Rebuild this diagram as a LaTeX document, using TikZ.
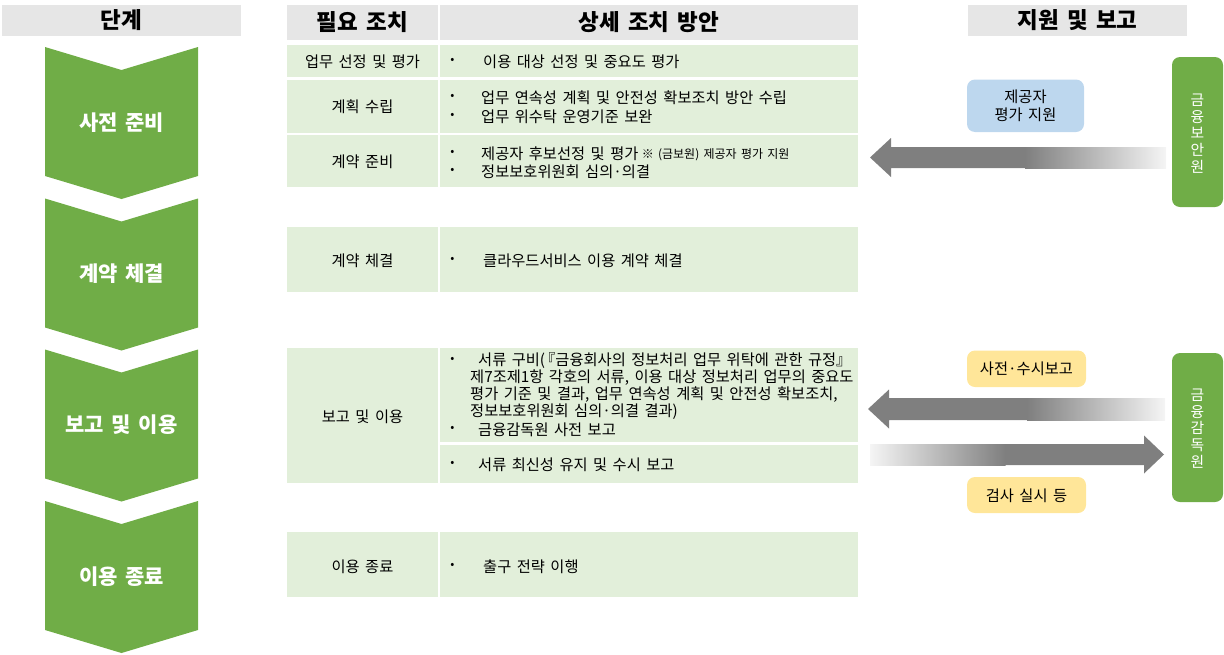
\documentclass[tikz,border=0pt]{standalone}
\usepackage{fontspec}
\setmainfont{Noto Sans CJK KR}
\newfontfamily\bodyfont[WordSpace=1.25]{Noto Sans CJK KR}
\newfontfamily\hdrfont[WordSpace=2.6]{Noto Sans CJK KR}
\newfontfamily\stepfont[WordSpace=1.6]{Noto Sans CJK KR}
\usetikzlibrary{calc}
\definecolor{hdrgray}{HTML}{E6E6E6}
\definecolor{rowgreen}{HTML}{E2EFDA}
\definecolor{stepgreen}{HTML}{70AD47}
\definecolor{boxblue}{HTML}{BDD7EE}
\definecolor{boxyellow}{HTML}{FFE699}
\definecolor{arrgray}{HTML}{7F7F7F}
\tikzset{
  hdrtext/.style={font=\hdrfont\fontsize{22.5}{26}\selectfont\bfseries, inner sep=0pt},
  steptext/.style={font=\stepfont\fontsize{21}{24}\selectfont\bfseries, text=white, inner sep=0pt},
  celltext/.style={font=\bodyfont\fontsize{15.3}{18}\selectfont, inner sep=0pt},
  bullettext/.style={font=\bodyfont\fontsize{15.3}{18}\selectfont, inner sep=0pt, anchor=west},
  bulletdot/.style={font=\fontsize{12}{14}\selectfont, inner sep=0pt},
  smalltext/.style={font=\bodyfont\fontsize{12}{14}\selectfont, inner sep=0pt},
  orgtext/.style={font=\bodyfont\fontsize{14.8}{16.6}\selectfont, text=white, align=center, inner sep=0pt},
}
\newcommand{\chevronshape}[2]{% #1 top y, #2 name
  \fill[stepgreen] (45,#1) -- (121.5,#1+23) -- (198,#1) -- (198,#1+129) -- (121.5,#1+152) -- (45,#1+129) -- cycle;
  \coordinate (#2) at (121.5,#1+75.5);
}
\begin{document}
\begin{tikzpicture}[x=1pt,y=-1pt]
\useasboundingbox (0,0) rectangle (1224,654);

% ---------- left column: stages ----------
\fill[hdrgray] (2,5) rectangle (241,36);
\node[hdrtext] (hstage) at (121.5,20.5) {단계};
\chevronshape{47}{c1}
\chevronshape{198.5}{c2}
\chevronshape{349.5}{c3}
\chevronshape{501}{c4}
\node[steptext] (s1) at (c1) {사전 준비};
\node[steptext] (s2) at (c2) {계약 체결};
\node[steptext] (s3) at (c3) {보고 및 이용};
\node[steptext] (s4) at (c4) {이용 종료};

% ---------- table ----------
\fill[hdrgray] (287,5) rectangle (438,40);
\fill[hdrgray] (440,5) rectangle (858,40);
\node[hdrtext] (hneed) at (362.5,22.5) {필요 조치};
\node[hdrtext] (hdetail) at (649,22.5) {상세 조치 방안};

% row fills
\foreach \ya/\yb in {44.5/77, 79.5/132.5, 135/187, 227/292, 348/483, 532/597}{
  \fill[rowgreen] (287,\ya) rectangle (438,\yb);
}
\foreach \ya/\yb in {44.5/77, 79.5/132.5, 135/187, 227/292, 348/442, 444.5/483, 532/597}{
  \fill[rowgreen] (440,\ya) rectangle (858,\yb);
}

% left cells
\node[celltext] (l1) at (362.5,61.5) {업무 선정 및 평가};
\node[celltext] (l2) at (362.5,106.5) {계획 수립};
\node[celltext] (l3) at (362.5,161.5) {계약 준비};
\node[celltext] (l4) at (362.5,260.5) {계약 체결};
\node[celltext] (l5) at (362.5,416.5) {보고 및 이용};
\node[celltext] (l6) at (362.5,566.5) {이용 종료};

% right cells: bullets
\foreach \y in {61, 97, 116, 153, 171, 260, 360, 429, 464, 566}{
  \node[bulletdot] at (452.5,\y) {•};
}
\node[bullettext] (r1) at (483,61.5) {이용 대상 선정 및 중요도 평가};
\node[bullettext] (r2a) at (481,97.5) {업무 연속성 계획 및 안전성 확보조치 방안 수립};
\node[bullettext] (r2b) at (481,116.5) {업무 위수탁 운영기준 보완};
\node[bullettext] (r3a) at (481,153.5) {제공자 후보선정 및 평가};
\node[smalltext, anchor=west] (r3n) at ($(r3a.east)+(3,1)$) {※ (금보원) 제공자 평가 지원};
\node[bullettext] (r3b) at (481,171.5) {정보보호위원회 심의·의결};
\node[bullettext] (r4) at (483,260.5) {클라우드서비스 이용 계약 체결};
\node[bullettext] (r5a) at (478,360.5) {서류 구비(\kern-5pt『금융회사의 정보처리 업무 위탁에 관한 규정』};
\node[bullettext] (r5b) at (470,378) {제7조제1항 각호의 서류, 이용 대상 정보처리 업무의 중요도};
\node[bullettext] (r5c) at (470,395) {평가 기준 및 결과, 업무 연속성 계획 및 안전성 확보조치,};
\node[bullettext] (r5d) at (470,412) {정보보호위원회 심의·의결 결과)};
\node[bullettext] (r5e) at (478,429.5) {금융감독원 사전 보고};
\node[bullettext] (r5f) at (478,464.5) {서류 최신성 유지 및 수시 보고};
\node[bullettext] (r6) at (483,566.5) {출구 전략 이행};

% ---------- right column ----------
\fill[hdrgray] (968,5) rectangle (1187,36);
\node[hdrtext] (hsupport) at (1077.5,20.5) {지원 및 보고};

\fill[stepgreen, rounded corners=8pt] (1172,57) rectangle (1223,207);
\node[orgtext] (fsi) at (1197.5,133.5) {금\\융\\보\\안\\원};
\fill[stepgreen, rounded corners=8pt] (1172,353) rectangle (1223,502);
\node[orgtext] (fss) at (1197.5,428.5) {금\\융\\감\\독\\원};

\fill[boxblue, rounded corners=8pt] (967,79.5) rectangle (1084,132);
\node[celltext, align=center] (bprov) at (1025.5,106) {제공자\\[0pt]평가 지원};
\fill[boxyellow, rounded corners=8pt] (967,350.5) rectangle (1086,387);
\node[celltext] (brep) at (1026.5,369) {사전·수시보고};
\fill[boxyellow, rounded corners=8pt] (967,477) rectangle (1086,513);
\node[celltext] (binsp) at (1026.5,495.5) {검사 실시 등};

% arrow 1: from 금융보안원 to table (left)
\fill[arrgray] (870,157.5) -- (891,138) -- (891,147) -- (1025.5,147) -- (1025.5,168) -- (891,168) -- (891,177) -- cycle;
\shade[left color=arrgray, right color=white!96!black] (1025,147) rectangle (1166,168);
% arrow 2: from 금융감독원 to table (left)
\fill[arrgray] (868,409) -- (889,389.5) -- (889,398) -- (1027.5,398) -- (1027.5,420) -- (889,420) -- (889,428.5) -- cycle;
\shade[left color=arrgray, right color=white!96!black] (1027,398) rectangle (1165,420);
% arrow 3: from table to 금융감독원 (right)
\fill[arrgray] (1164,454.5) -- (1144,435.5) -- (1144,444) -- (1005,444) -- (1005,465) -- (1144,465) -- (1144,473.5) -- cycle;
\shade[left color=white!96!black, right color=arrgray] (870,444) rectangle (1005.5,465);
\end{tikzpicture}
\end{document}
